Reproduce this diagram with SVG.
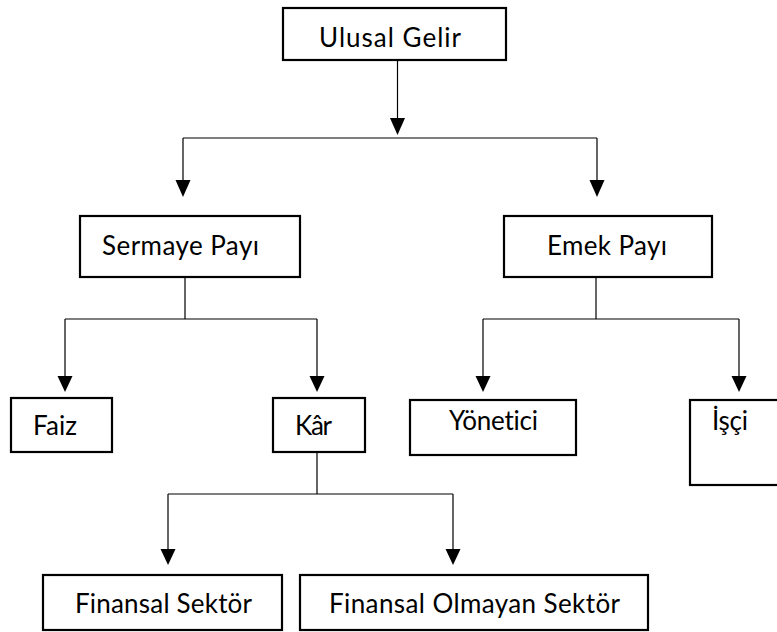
<svg xmlns="http://www.w3.org/2000/svg" width="777" height="632" viewBox="0 0 777 632">
<defs>
<style>
.box{fill:#fff;stroke:#000;stroke-width:2.2}
.lbl{font-family:Lato,"Open Sans",sans-serif;font-size:26px;fill:#000;font-variant-ligatures:none}
.ln{fill:none;stroke:#000;stroke-width:1.2}
</style>
</defs>
<rect width="777" height="632" fill="#fff"/>
<g id="connectors">
<path class="ln" d="M397.5,60 V120"/>
<path d="M390,118 L405,118 L397.5,135 Z"/>
<path class="ln" d="M183,138 H597 M183,138 V180 M597,138 V180"/>
<path d="M175.5,180 L190.5,180 L183,197 Z"/>
<path d="M589.5,180 L604.5,180 L597,197 Z"/>
<path class="ln" d="M185,277 V319 M65,319 H317 M65,319 V376 M317,319 V376"/>
<path d="M57.5,376 L72.5,376 L65,392 Z"/>
<path d="M309.5,376 L324.5,376 L317,392 Z"/>
<path class="ln" d="M596,277 V319 M483,319 H739 M483,319 V376 M739,319 V376"/>
<path d="M475.5,376 L490.5,376 L483,392 Z"/>
<path d="M731.5,376 L746.5,376 L739,392 Z"/>
<path class="ln" d="M317,452 V494 M168,494 H453 M168,494 V549 M453,494 V549"/>
<path d="M160.5,549 L175.5,549 L168,565 Z"/>
<path d="M445.5,549 L460.5,549 L453,565 Z"/>
</g>
<g id="ulusal"><rect class="box" x="283" y="8" width="223" height="52"/><text class="lbl" x="319" y="47" textLength="142">Ulusal Gelir</text></g>
<g id="sermaye"><rect class="box" x="80" y="216" width="220" height="61"/><text class="lbl" x="102" y="255" textLength="157">Sermaye Payı</text></g>
<g id="emek"><rect class="box" x="504" y="216" width="208" height="61"/><text class="lbl" x="547" y="255" textLength="120">Emek Payı</text></g>
<g id="faiz"><rect class="box" x="11" y="398" width="101" height="54"/><text class="lbl" x="33" y="435" textLength="44">Faiz</text></g>
<g id="kar"><rect class="box" x="273" y="398" width="92" height="54"/><text class="lbl" x="295" y="435" textLength="37">Kâr</text></g>
<g id="yonetici"><rect class="box" x="410" y="400" width="166" height="55"/><text class="lbl" x="449" y="430" textLength="89">Yönetici</text></g>
<g id="isci"><rect class="box" x="690" y="400" width="90" height="85"/><text class="lbl" x="712" y="430" textLength="36">İşçi</text></g>
<g id="finansal"><rect class="box" x="43" y="575" width="239" height="55"/><text class="lbl" x="75" y="613" textLength="177">Finansal Sektör</text></g>
<g id="finansalolmayan"><rect class="box" x="300" y="575" width="348" height="55"/><text class="lbl" x="329" y="613" textLength="291">Finansal Olmayan Sektör</text></g>
</svg>
